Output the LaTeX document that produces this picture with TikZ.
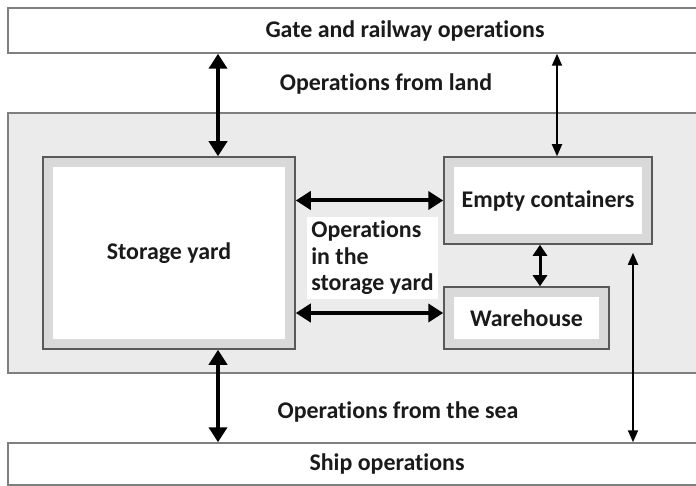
\documentclass[tikz,border=0pt]{standalone}
\usepackage{fontspec}
\setmainfont{Carlito}[Ligatures=NoCommon]
\usetikzlibrary{arrows.meta,calc}
\definecolor{panelgray}{HTML}{EBEBEB}
\definecolor{framegray}{HTML}{7F7F7F}
\definecolor{unitgray}{HTML}{D9D9D9}
\definecolor{unitline}{HTML}{595959}
\definecolor{inkgray}{HTML}{1A1A1A}
\tikzstyle{bar} = [rectangle, draw=framegray, line width=1.5bp, fill=white, text centered, minimum height=45bp]
\tikzstyle{panel} = [rectangle, draw=framegray, line width=1.5bp, fill=panelgray]
\tikzstyle{unit} = [rectangle, draw=unitline, line width=1.5bp, fill=unitgray, text centered,
  path picture={\fill[white] ([shift={(10bp,-10bp)}]path picture bounding box.north west) rectangle ([shift={(-10bp,10bp)}]path picture bounding box.south east);}]
\tikzstyle{caption} = [fill=white, inner sep=3bp]
\tikzstyle{bigarrow} = [line width=4bp, {Triangle[length=15bp,width=18bp]}-{Triangle[length=15bp,width=18bp]}]
\tikzstyle{midarrow} = [line width=3bp, {Triangle[length=11bp,width=14bp]}-{Triangle[length=11bp,width=14bp]}]
\tikzstyle{thinarrow} = [line width=1.8bp, {Triangle[length=12bp,width=10bp]}-{Triangle[length=12bp,width=10bp]}]

\begin{document}
\begin{tikzpicture}[x=1bp, y=-1bp, every node/.style={font=\fontsize{24}{26.5}\selectfont\bfseries, text=inkgray}]
        \useasboundingbox (0,0) rectangle (696,486);
        \clip (0,0) rectangle (696,486);
        \node (terminal) [panel, minimum width=752bp, minimum height=260bp] at (384,243) {};
        \node (gate) [bar, minimum width=794bp] at (405,30.5) {Gate and railway operations};
        \node (ship) [bar, minimum width=758bp, minimum height=42bp] at (387,464) {Ship operations};
        \node (yard) [unit, minimum width=252bp, minimum height=192bp] at (169,253) {Storage yard};
        \node (empty) [unit, minimum width=208bp, minimum height=87bp] at (548,200.5) {Empty containers};
        \node (warehouse) [unit, minimum width=165bp, minimum height=62bp] at (526.5,318) {Warehouse};
        \node (land) [caption] at (386,84) {Operations from land};
        \node (sea) [caption] at (398,412) {Operations from the sea};
        \node (inyard) [caption, align=left, minimum width=131bp, minimum height=81bp] at (372.5,258) {Operations\\in the\\storage yard};
        \draw [bigarrow] ([xshift=49bp]yard.north |- gate.south) -- ([xshift=49bp]yard.north);
        \draw [thinarrow] ([xshift=9bp]empty.north |- gate.south) -- ([xshift=9bp]empty.north);
        \draw [bigarrow] (yard.east |- empty.west) -- (empty.west);
        \draw [bigarrow] ([yshift=5bp]yard.east |- warehouse.west) -- ([yshift=5bp]warehouse.west);
        \draw [midarrow] ([xshift=13.5bp]warehouse.north |- empty.south) -- ([xshift=13.5bp]warehouse.north);
        \draw [bigarrow] ([xshift=49bp]yard.south) -- ([xshift=49bp]yard.south |- ship.north);
        \draw [thinarrow] ([xshift=85bp,yshift=-8bp]empty.south) -- ([xshift=85bp]empty.south |- ship.north);
    \end{tikzpicture}
\end{document}
